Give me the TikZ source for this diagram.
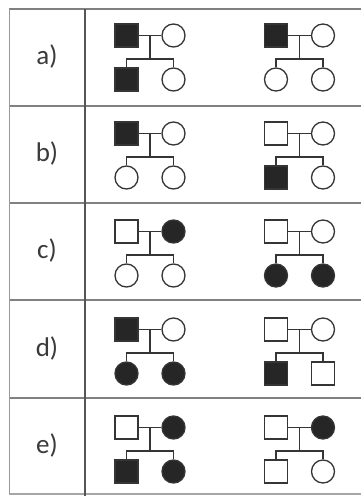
\documentclass[tikz,border=0pt]{standalone}
\usepackage{fontspec}
\setmainfont{Carlito}
\begin{document}
\begin{tikzpicture}[x=1pt,y=-1pt,
  sym/.style={draw=symc, line width=1.3pt, inner sep=0pt, minimum size=23pt, fill=white},
  male/.style={sym, rectangle},
  fem/.style={sym, circle},
  aff/.style={fill=symf},
  un/.style={},
  link/.style={draw=symc, line width=1.2pt},
  hline/.style={draw=gridc, line width=1.6pt},
  lbl/.style={font=\fontsize{27}{28}\selectfont, text=labc}]
\definecolor{symc}{HTML}{353535}
\definecolor{symf}{HTML}{262626}
\definecolor{gridc}{HTML}{808080}
\definecolor{divc}{HTML}{555555}
\definecolor{labc}{HTML}{3A3A3A}
\useasboundingbox (0,0) rectangle (361,496);
\fill[white] (0,0) rectangle (361,496);
% grid
\draw[hline] (9,9) -- (361,9);
\foreach \yy in {106,203,300,398} \draw[hline] (9,\yy) -- (361,\yy);
\draw[draw=gridc!70, line width=1.2pt] (9,494) -- (361,494);
\draw[draw=gridc!80, line width=1.2pt] (9.5,9) -- (9.5,494);
\draw[draw=divc, line width=2pt] (85,9) -- (85,496);
% labels
\node[lbl] (la) at (47,56) {a)};
\node[lbl] (lb) at (47,153) {b)};
\node[lbl] (lc) at (47,250) {c)};
\node[lbl] (ld) at (47,348) {d)};
\node[lbl] (le) at (47,445) {e)};
% pedigree macro: #1 name, #2 x of father, #3 y of parents, #4 father style, #5 mother style, #6 child1 shape+style, #7 child2 shape+style
\newcommand\pedtree[7]{%
  \node[male,#4] (#1f) at (#2,#3) {};
  \node[fem,#5] (#1m) at (#2+47,#3) {};
  \node[#6] (#1c) at (#2,#3+44) {};
  \node[#7] (#1d) at (#2+47,#3+44) {};
  \coordinate (#1j) at (#2+23.5,#3);
  \coordinate (#1s) at (#2+23.5,#3+23.5);
  \coordinate (#1a) at (#2,#3+23.5);
  \coordinate (#1b) at (#2+47,#3+23.5);
  \draw[link] (#1f.east) -- (#1m.west);
  \draw[link] (#1j) -- (#1s);
  \draw[link] (#1c.north) -- (#1a) -- (#1b) -- (#1d.north);
}
% row a
\pedtree{a1}{126.5}{35.5}{aff}{un}{male,aff}{fem}
\pedtree{a2}{276}{35.5}{aff}{un}{fem}{fem}
% row b
\pedtree{b1}{126.5}{133.5}{aff}{un}{fem}{fem}
\pedtree{b2}{276}{133.5}{un}{un}{male,aff}{fem}
% row c
\pedtree{c1}{126.5}{231.5}{un}{aff}{fem}{fem}
\pedtree{c2}{276}{231.5}{un}{un}{fem,aff}{fem,aff}
% row d
\pedtree{d1}{126.5}{329.5}{aff}{un}{fem,aff}{fem,aff}
\pedtree{d2}{276}{329.5}{un}{un}{male,aff}{male}
% row e
\pedtree{e1}{126.5}{427.5}{un}{aff}{male,aff}{fem,aff}
\pedtree{e2}{276}{427.5}{un}{aff}{male}{fem}
\end{tikzpicture}
\end{document}
